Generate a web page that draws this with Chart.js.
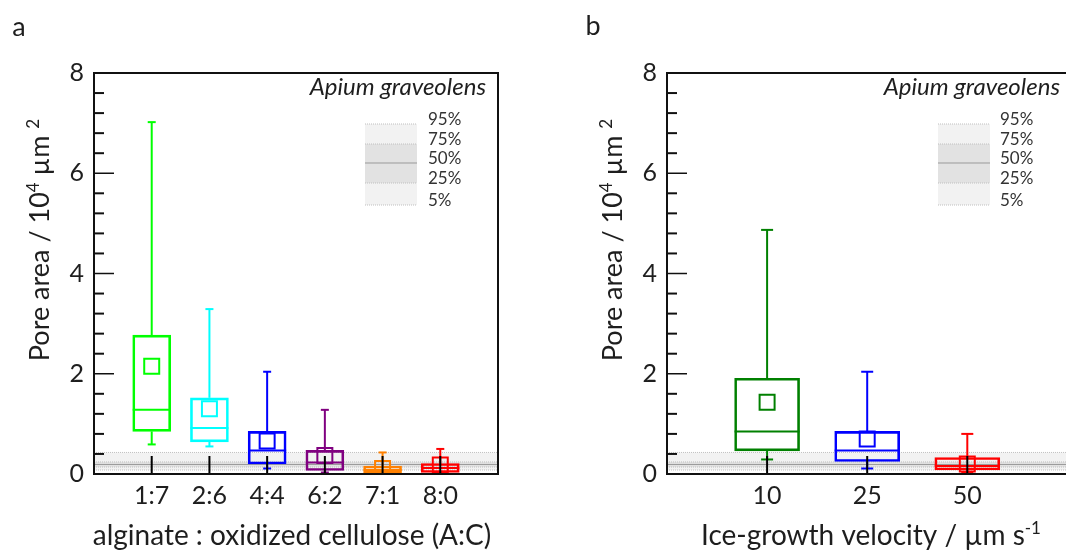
<!DOCTYPE html>
<html>
<head>
<meta charset="utf-8">
<script src="https://cdn.jsdelivr.net/npm/chart.js@4.4.1/dist/chart.umd.min.js"></script>
<style>
  html, body { margin: 0; padding: 0; background: #fff; width: 1066px; height: 550px; overflow: hidden; }
  .panel { position: absolute; top: 0; }
</style>
</head>
<body>
<canvas id="chartA" class="panel" style="left:0px"></canvas>
<canvas id="chartB" class="panel" style="left:560px"></canvas>
<script>
/* ===== DATA : panel a ===== */
const categoriesA = ['1:7', '2:6', '4:4', '6:2', '7:1', '8:0'];
const whiskerLowA  = [0.59, 0.55, 0.11, 0.03, 0.02, 0.03];
const q1A          = [0.85, 0.64, 0.20, 0.07, 0.02, 0.03];
const medianA      = [1.28, 0.92, 0.47, 0.23, 0.08, 0.12];
const q3A          = [2.77, 1.52, 0.85, 0.47, 0.16, 0.21];
const whiskerHighA = [7.02, 3.29, 2.04, 1.28, 0.43, 0.50];
const meanA        = [2.15, 1.30, 0.66, 0.37, 0.11, 0.18];

/* ===== DATA : panel b ===== */
const categoriesB = ['10', '25', '50'];
const whiskerLowB  = [0.29, 0.11, 0.03];
const q1B          = [0.46, 0.25, 0.08];
const medianB      = [0.85, 0.47, 0.16];
const q3B          = [1.91, 0.85, 0.33];
const whiskerHighB = [4.87, 2.04, 0.80];
const meanB        = [1.43, 0.70, 0.20];

/* reference band (percentiles of the native tissue) */
const bandLabels = ['95%', '75%', '50%', '25%', '5%'];
const bandValues = [0.43, 0.24, 0.19, 0.14, 0.08];

const yTickStep = 0.4;
const yMajorStep = 2;

/* ===== STYLE ===== */
const FONT = "Lato, 'Open Sans', sans-serif";
const TEXT = '#1e1e1e';
const colorsA = ['#00ff00', '#00ffff', '#0000ff', '#800080', '#ff8000', '#ff0000'];
const colorsB = ['#008000', '#0000ff', '#ff0000'];

const panelA = {
    id: 'chartA', letter: 'a', letterPos: [19, 27], width: 540,
    categories: categoriesA, low: whiskerLowA, q1: q1A, median: medianA,
    q3: q3A, high: whiskerHighA, mean: meanA, colors: colorsA,
    xMax: 7, area: { left: 94, top: 73, right: 498, bottom: 474 },
    boxPx: 38, capPx: 8,
    xTitle: [['alginate : oxidized cellulose (A:C)', false]], xTitleX: 292,
    yTitleX: 40, speciesRight: 486, legendRect: [365, 417], legendTextX: 428
};

const panelB = {
    id: 'chartB', letter: 'b', letterPos: [33, 26], width: 520,
    categories: categoriesB, low: whiskerLowB, q1: q1B, median: medianB,
    q3: q3B, high: whiskerHighB, mean: meanB, colors: colorsB,
    xMax: 4, area: { left: 107, top: 73, right: 508, bottom: 474 },
    boxPx: 65, capPx: 12,
    xTitle: [['Ice-growth velocity / \u00b5m s', false], ['-1', true]], xTitleX: 311,
    yTitleX: 53, speciesRight: 500, legendRect: [378, 430], legendTextX: 440
};

const yTitle = [['Pore area / 10', false], ['4', true], [' \u00b5m ', false], ['2', true]];

// ===== HELPERS =====
function hLine(ctx, x0, x1, y) {
    ctx.beginPath(); ctx.moveTo(x0, y); ctx.lineTo(x1, y); ctx.stroke();
}
function vLine(ctx, x, y0, y1) {
    ctx.beginPath(); ctx.moveTo(x, y0); ctx.lineTo(x, y1); ctx.stroke();
}

// shaded percentile band; ys = pixel rows for 95,75,50,25,5 %
function drawBand(ctx, x0, x1, ys) {
    ctx.save();
    ctx.fillStyle = '#f2f2f2';
    ctx.fillRect(x0, ys[0], x1 - x0, ys[1] - ys[0]);
    ctx.fillRect(x0, ys[3], x1 - x0, ys[4] - ys[3]);
    ctx.fillStyle = '#e2e2e2';
    ctx.fillRect(x0, ys[1], x1 - x0, ys[3] - ys[1]);
    ctx.lineWidth = 1;
    ctx.strokeStyle = '#c0c0c0';
    ctx.setLineDash([1, 1]);
    [0, 1, 3, 4].forEach(k => hLine(ctx, x0, x1, ys[k]));
    ctx.setLineDash([]);
    ctx.strokeStyle = '#999';
    hLine(ctx, x0, x1, ys[2]);
    ctx.restore();
}

// text with superscript parts, centred at x, baseline y
function richText(ctx, parts, x, y, size) {
    const supSize = Math.round(size * 0.62);
    let total = 0;
    parts.forEach(([t, sup]) => {
        ctx.font = (sup ? supSize : size) + 'px ' + FONT;
        total += ctx.measureText(t).width;
    });
    let cx = x - total / 2;
    ctx.textAlign = 'left';
    ctx.textBaseline = 'alphabetic';
    parts.forEach(([t, sup]) => {
        ctx.font = (sup ? supSize : size) + 'px ' + FONT;
        ctx.fillText(t, cx, sup ? y - size * 0.38 : y);
        cx += ctx.measureText(t).width;
    });
}

// ===== BOX PLOT PLUGIN =====
function boxPlugin(p) {
    return {
        id: 'box_' + p.letter,
        beforeDatasetsDraw(chart) {
            const { ctx, chartArea: a, scales: { y } } = chart;
            drawBand(ctx, a.left, a.right, bandValues.map(v => y.getPixelForValue(v)));
        },
        afterDatasetsDraw(chart) {
            const { ctx, chartArea: a, scales: { x, y } } = chart;
            const bars = chart.getDatasetMeta(0).data;
            ctx.save();

            // whiskers, caps and medians
            ctx.lineWidth = 2;
            p.categories.forEach((c, i) => {
                const cx = x.getPixelForValue(i + 1);
                const half = bars[i].width / 2;
                ctx.strokeStyle = p.colors[i];
                vLine(ctx, cx, y.getPixelForValue(p.q3[i]), y.getPixelForValue(p.high[i]));
                vLine(ctx, cx, y.getPixelForValue(p.q1[i]), y.getPixelForValue(p.low[i]));
                hLine(ctx, cx - p.capPx / 2, cx + p.capPx / 2, y.getPixelForValue(p.high[i]));
                hLine(ctx, cx - p.capPx / 2, cx + p.capPx / 2, y.getPixelForValue(p.low[i]));
                hLine(ctx, cx - half, cx + half, y.getPixelForValue(p.median[i]));
            });

            // category ticks (inward)
            ctx.strokeStyle = '#000';
            ctx.lineWidth = 2;
            p.categories.forEach((c, i) => {
                const cx = x.getPixelForValue(i + 1);
                vLine(ctx, cx, a.bottom, a.bottom - 18);
            });

            // y ticks (inward)
            ctx.strokeStyle = '#111';
            y.ticks.forEach(t => {
                const py = y.getPixelForValue(t.value);
                const major = Math.abs(t.value / yMajorStep - Math.round(t.value / yMajorStep)) < 1e-6;
                ctx.lineWidth = major ? 1.5 : 2;
                hLine(ctx, a.left, a.left + (major ? 20 : 10), py);
            });

            // frame
            ctx.lineWidth = 2;
            ctx.strokeStyle = '#111';
            ctx.strokeRect(a.left, a.top, a.right - a.left, a.bottom - a.top);

            // percentile legend
            const legendYs = [124, 144, 163, 183, 205];
            drawBand(ctx, p.legendRect[0], p.legendRect[1], legendYs);
            ctx.fillStyle = '#333';
            ctx.font = '17px ' + FONT;
            ctx.textAlign = 'left';
            ctx.textBaseline = 'middle';
            bandLabels.forEach((t, k) => ctx.fillText(t, p.legendTextX, legendYs[k] - 4));

            // texts
            ctx.fillStyle = TEXT;
            ctx.font = 'italic 24px ' + FONT;
            ctx.textAlign = 'right';
            ctx.textBaseline = 'middle';
            ctx.fillText('Apium graveolens', p.speciesRight, 87);

            ctx.font = '27px ' + FONT;
            ctx.textAlign = 'center';
            ctx.fillText(p.letter, p.letterPos[0], p.letterPos[1]);

            richText(ctx, p.xTitle, p.xTitleX, 545, 28);

            ctx.save();
            ctx.translate(p.yTitleX, 240);
            ctx.rotate(-Math.PI / 2);
            richText(ctx, yTitle, 0, 9, 27);
            ctx.restore();

            ctx.restore();
        }
    };
}

// ===== BUILD PANEL =====
function makePanel(p) {
    const canvas = document.getElementById(p.id);
    canvas.width = p.width;
    canvas.height = 550;
    const xs = p.categories.map((c, i) => i + 1);

    return new Chart(canvas.getContext('2d'), {
        type: 'bar',
        data: {
            datasets: [{
                type: 'bar',
                data: xs.map((xv, i) => ({ x: xv, y: [p.q1[i], p.q3[i]] })),
                backgroundColor: 'rgba(0,0,0,0)',
                borderColor: p.colors,
                borderWidth: 2,
                borderSkipped: false,
                barThickness: p.boxPx
            }, {
                type: 'scatter',
                data: xs.map((xv, i) => ({ x: xv, y: p.mean[i] })),
                pointStyle: 'rect',
                pointRadius: 10.6,
                borderWidth: 2,
                borderColor: p.colors,
                backgroundColor: 'rgba(0,0,0,0)',
                showLine: false
            }]
        },
        options: {
            responsive: false,
            animation: false,
            events: [],
            layout: { padding: { top: p.area.top, right: p.width - p.area.right, left: 0, bottom: 0 } },
            plugins: { legend: { display: false }, tooltip: { enabled: false } },
            scales: {
                x: {
                    type: 'linear', min: 0, max: p.xMax, offset: false,
                    grid: { display: false, drawTicks: false },
                    border: { display: false },
                    ticks: {
                        stepSize: 1, padding: 7, autoSkip: false, maxRotation: 0,
                        color: TEXT, font: { family: FONT, size: 25 },
                        callback: v => (Number.isInteger(v) && p.categories[v - 1]) || ''
                    },
                    afterFit: s => { s.height = 550 - p.area.bottom; }
                },
                y: {
                    min: 0, max: 8,
                    grid: { display: false, drawTicks: false },
                    border: { display: false },
                    ticks: {
                        stepSize: yTickStep, padding: 10, autoSkip: false,
                        color: TEXT, font: { family: FONT, size: 25 },
                        callback: v => {
                            const r = Math.round(v);
                            return (Math.abs(v - r) < 1e-6 && r % yMajorStep === 0) ? String(r) : '';
                        }
                    },
                    afterFit: s => { s.width = p.area.left; }
                }
            }
        },
        plugins: [boxPlugin(p)]
    });
}

makePanel(panelA);
makePanel(panelB);
</script>
</body>
</html>
